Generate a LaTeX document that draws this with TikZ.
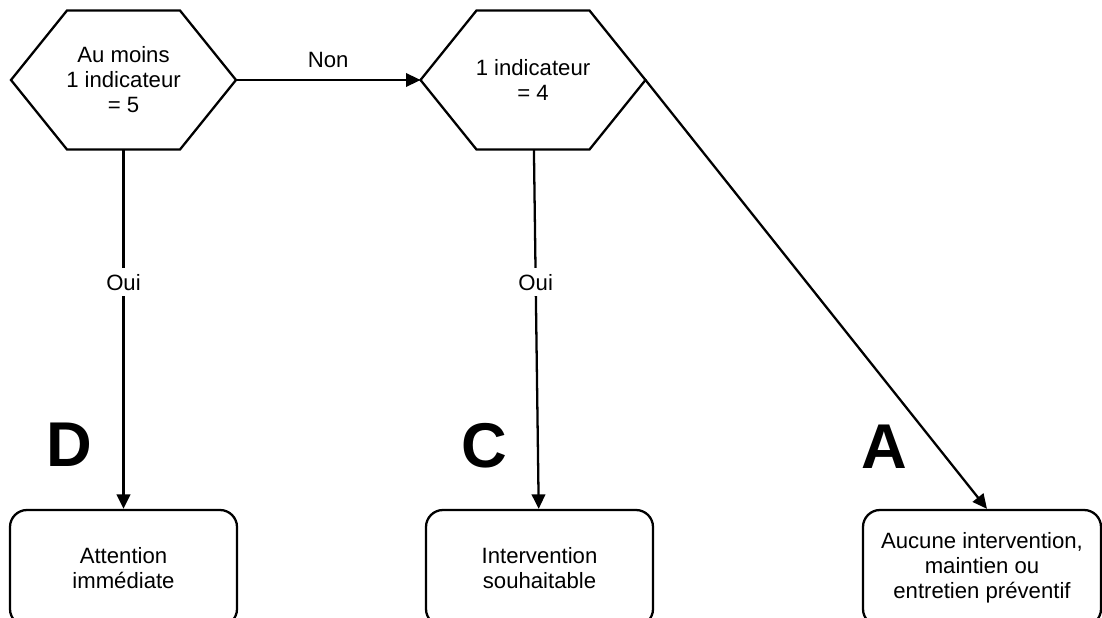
\documentclass[tikz,border=0pt]{standalone}
\usepackage{fontspec}
\setmainfont{Liberation Sans}
\usetikzlibrary{arrows.meta,positioning}

\tikzset{
  hexa/.style={rectangle, minimum width=4.5cm, minimum height=2.78cm,
    inner sep=0pt, outer sep=0pt, align=center,
    font=\fontsize{12.6}{14.2}\selectfont},
  trait/.style={line width=1.3pt, line join=miter},
  result/.style={rectangle, rounded corners=0.34cm, draw, line width=1.3pt,
    minimum width=4.54cm, minimum height=2.32cm, align=center,
    font=\fontsize{12.6}{14.2}\selectfont},
  grade/.style={font=\fontsize{36}{40}\selectfont\bfseries},
  fleche/.style={-{Triangle[length=0.29cm,width=0.27cm]}, line width=1.3pt},
  rep/.style={fill=white, font=\fontsize{12.6}{14.2}\selectfont}
}
\newcommand{\hexcadre}[1]{%
  \draw[trait] (#1.west) -- ([xshift=1.12cm]#1.north west)
    -- ([xshift=-1.12cm]#1.north east) -- (#1.east)
    -- ([xshift=-1.12cm]#1.south east) -- ([xshift=1.12cm]#1.south west)
    -- cycle;}

\begin{document}
\begin{tikzpicture}
  \useasboundingbox (0,0) rectangle (22.04,12.34);
  \clip (0,0) rectangle (22.04,12.34);
  % questions
  \node[hexa] (moins5) at (2.47,10.74) {Au moins\\1 indicateur\\= 5};
  \node[hexa] (ind4) at (10.66,10.74) {1 indicateur\\= 4};
  \hexcadre{moins5}
  \hexcadre{ind4}
  % resultats
  \node[result] (attention) at (2.47,0.98) {Attention\\immédiate};
  \node[result] (souhait) at (10.79,0.98) {Intervention\\souhaitable};
  \node[result, minimum width=4.76cm] (aucune) at (19.64,0.98)
    {Aucune intervention,\\maintien ou\\entretien préventif};
  % classes
  \node[grade] (gD) at (1.39,3.44) {D};
  \node[grade] (gC) at (9.68,3.42) {C};
  \node[grade] (gA) at (17.69,3.40) {A};
  % liens
  \draw[fleche] (moins5) -- node[above=0.1cm, rep, fill=none] {Non} (ind4);
  \draw[fleche] (moins5) -- node[rep, pos=0.37] {Oui} (attention);
  \draw[fleche] (ind4) -- node[rep, pos=0.37] {Oui} (souhait);
  \draw[fleche] (ind4.east) -- ([xshift=0.1cm]aucune.north);
\end{tikzpicture}
\end{document}
